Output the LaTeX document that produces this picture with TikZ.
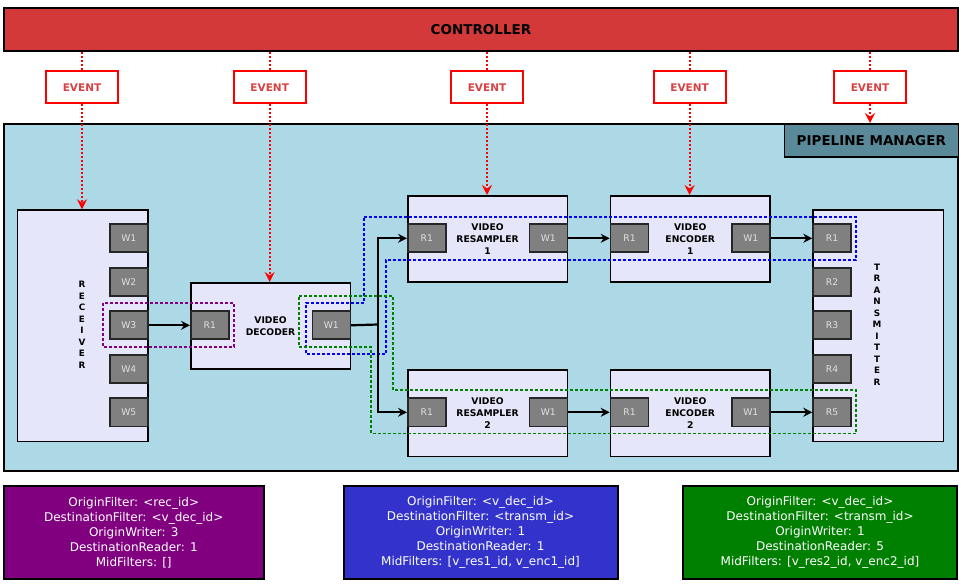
\documentclass[tikz,border=0pt]{standalone}
\usepackage{fontspec}
\setmainfont{DejaVu Sans}
\usetikzlibrary{arrows.meta}
\definecolor{ctrlred}{RGB}{211,57,57}
\definecolor{evtxt}{RGB}{216,66,66}
\definecolor{pmblue}{RGB}{173,216,230}
\definecolor{pmlabel}{RGB}{90,138,153}
\definecolor{lav}{RGB}{230,230,250}
\definecolor{portgray}{RGB}{128,128,128}
\definecolor{porttxt}{RGB}{225,225,225}
\definecolor{bpurple}{RGB}{128,0,128}
\definecolor{bblue}{RGB}{51,51,204}
\definecolor{bgreen}{RGB}{0,128,0}
\tikzset{
  nwbox/.style={draw=black, inner sep=0pt, anchor=north west},
  filt/.style={nwbox, fill=lav, line width=1.6pt, minimum width=159.5pt, minimum height=86.5pt,
    align=center, font=\bfseries\fontsize{9.2}{11.6}\selectfont},
  tall/.style={nwbox, fill=lav, line width=1.6pt, minimum width=130.5pt, minimum height=231.5pt},
  port/.style={nwbox, fill=portgray, draw=black!85, line width=1.6pt, minimum width=38pt, minimum height=28pt,
    text=porttxt, font=\fontsize{9.2}{10}\selectfont},
  vlet/.style={align=center, font=\bfseries\fontsize{8.8}{11.5}\selectfont},
  evbox/.style={draw=red, fill=white, line width=2pt, minimum width=72pt, minimum height=32pt,
    inner sep=0pt, text=evtxt, font=\bfseries\fontsize{10.5}{12}\selectfont},
  evline/.style={red, line width=2pt, dash pattern=on 2pt off 2pt},
  evarrow/.style={evline, -{Stealth[length=10pt,width=10pt,inset=3.5pt]}},
  flow/.style={black, line width=2.2pt},
  flowarrow/.style={flow, -{Stealth[length=9pt,width=9pt,inset=3pt]}},
  infobox/.style={nwbox, line width=2pt, minimum width=259.5pt, minimum height=92.5pt,
    text=white, align=center, font=\fontsize{12}{15}\selectfont},
  dsh/.style={line width=1.3pt, dash pattern=on 3pt off 2pt},
}
\begin{document}
\begin{tikzpicture}[x=1pt,y=-1pt]
\useasboundingbox (0,0) rectangle (959,585);

% controller
\node[nwbox, fill=ctrlred, line width=2pt, minimum width=954pt, minimum height=43pt,
  font=\bfseries\fontsize{13.5}{15}\selectfont] (ctrl) at (3,7) {CONTROLLER};

% pipeline manager
\node[nwbox, fill=pmblue, line width=2pt, minimum width=954.5pt, minimum height=347pt] (pm) at (2.5,123) {};
\node[nwbox, fill=pmlabel, line width=1.6pt, minimum width=174pt, minimum height=33pt,
  font=\bfseries\fontsize{13.5}{15}\selectfont] (pmlab) at (783.5,123) {PIPELINE MANAGER};

% events
\node[evbox] (ev1) at (82,87.3) {EVENT};
\node[evbox] (ev2) at (269.7,87.3) {EVENT};
\node[evbox] (ev3) at (487,87.3) {EVENT};
\node[evbox] (ev4) at (689.6,87.3) {EVENT};
\node[evbox] (ev5) at (870,87.3) {EVENT};

% filters
\node[tall] (recv) at (16.5,209.3) {};
\node[vlet] (recvtxt) at (82,325) {R\\E\\C\\E\\I\\V\\E\\R};
\node[tall] (trans) at (812.3,209.3) {};
\node[vlet] (transtxt) at (877,324.7) {T\\R\\A\\N\\S\\M\\I\\T\\T\\E\\R};
\node[filt] (dec) at (190,282) {VIDEO\\DECODER};
\node[filt] (res1) at (407,195) {VIDEO\\RESAMPLER\\1};
\node[filt] (res2) at (407,369) {VIDEO\\RESAMPLER\\2};
\node[filt] (enc1) at (609.7,195) {VIDEO\\ENCODER\\1};
\node[filt] (enc2) at (609.7,369) {VIDEO\\ENCODER\\2};

% dashed groupings
\draw[dsh, draw=bpurple] (103,303) rectangle (234,347);
\draw[dsh, draw=blue] (364,217) -- (856,217) -- (856,260) -- (386,260) -- (386,354)
  -- (306,354) -- (306,303) -- (364,303) -- cycle;
\draw[dsh, draw=bgreen] (299,296) -- (393,296) -- (393,390) -- (856,390) -- (856,433.5)
  -- (371,433.5) -- (371,347) -- (299,347) -- cycle;

% ports
\node[port] (rW1) at (109,223.5) {W1};
\node[port] (rW2) at (109,267) {W2};
\node[port] (rW3) at (109,310.5) {W3};
\node[port] (rW4) at (109,354) {W4};
\node[port] (rW5) at (109,397.5) {W5};
\node[port] (dR1) at (190,310.5) {R1};
\node[port] (dW1) at (311.5,310.5) {W1};
\node[port] (s1R1) at (407,223.5) {R1};
\node[port] (s1W1) at (528.5,223.5) {W1};
\node[port] (s2R1) at (407,397.5) {R1};
\node[port] (s2W1) at (528.5,397.5) {W1};
\node[port] (e1R1) at (609.7,223.5) {R1};
\node[port] (e1W1) at (731,223.5) {W1};
\node[port] (e2R1) at (609.7,397.5) {R1};
\node[port] (e2W1) at (731,397.5) {W1};
\node[port] (tR1) at (812.3,223.5) {R1};
\node[port] (tR2) at (812.3,267) {R2};
\node[port] (tR3) at (812.3,310.5) {R3};
\node[port] (tR4) at (812.3,354) {R4};
\node[port] (tR5) at (812.3,397.5) {R5};

% event lines
\foreach \e/\t in {ev1/recv, ev2/dec, ev3/res1, ev4/enc1, ev5/pmlab}{
  \draw[evline] (ctrl.south -| \e) -- (\e.north);
  \draw[evarrow] (\e.south) -- (\t.north -| \e);
}

% data flow
\coordinate (split) at (378,324.5);
\draw[flowarrow] (rW3.east) -- (dR1.west);
\draw[flow] (dW1.east) -- (split);
\draw[flowarrow] (split) |- (s1R1.west);
\draw[flowarrow] (split) |- (s2R1.west);
\draw[flowarrow] (s1W1.east) -- (e1R1.west);
\draw[flowarrow] (s2W1.east) -- (e2R1.west);
\draw[flowarrow] (e1W1.east) -- (tR1.west);
\draw[flowarrow] (e2W1.east) -- (tR5.west);

% info boxes
\node[infobox, fill=bpurple] (info1) at (3,485) {OriginFilter: <rec\_id>\\DestinationFilter: <v\_dec\_id>\\OriginWriter: 3\\DestinationReader: 1\\MidFilters: []};
\node[infobox, fill=bblue, minimum width=274pt] (info2) at (342.5,485) {OriginFilter: <v\_dec\_id>\\DestinationFilter: <transm\_id>\\OriginWriter: 1\\DestinationReader: 1\\MidFilters: [v\_res1\_id, v\_enc1\_id]};
\node[infobox, fill=bgreen, minimum width=274pt] (info3) at (682,485) {OriginFilter: <v\_dec\_id>\\DestinationFilter: <transm\_id>\\OriginWriter: 1\\DestinationReader: 5\\MidFilters: [v\_res2\_id, v\_enc2\_id]};
\end{tikzpicture}
\end{document}
